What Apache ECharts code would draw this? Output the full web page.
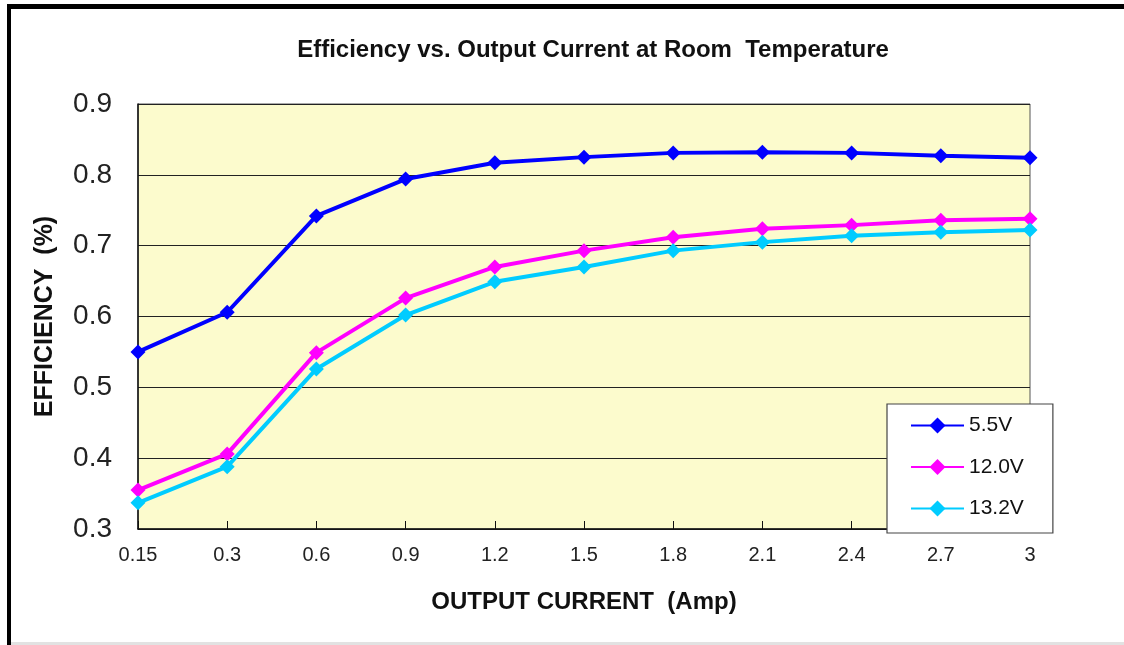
<!DOCTYPE html>
<html><head><meta charset="utf-8">
<script src="https://cdn.jsdelivr.net/npm/echarts@6/dist/echarts.min.js"></script>
<style>html,body{margin:0;padding:0;background:#fff;}#c{width:1124px;height:645px;}</style>
</head><body><div id="c"></div>
<script>
const categories = ['0.15','0.3','0.6','0.9','1.2','1.5','1.8','2.1','2.4','2.7','3'];
const v55 = [0.550,0.606,0.742,0.794,0.817,0.825,0.831,0.832,0.831,0.827,0.824];
const v120 = [0.355,0.406,0.549,0.626,0.670,0.693,0.712,0.724,0.729,0.736,0.738];
const v132 = [0.337,0.388,0.526,0.602,0.649,0.670,0.693,0.705,0.714,0.719,0.722];
const seriesNames = ['5.5V','12.0V','13.2V'];
const colors = ['#0000FF','#FF00FF','#00CCFF'];

const chart = echarts.init(document.getElementById('c'), null, {renderer:'canvas'});
function mk(name, data, color){
  return {name, type:'line', data, symbol:'diamond', symbolSize:15,
    lineStyle:{width:4,color}, itemStyle:{color}, color, z:3};
}
chart.setOption({
  animation:false,
  textStyle:{fontFamily:'Liberation Sans, Arial, sans-serif'},
  title:{text:'Efficiency vs. Output Current at Room  Temperature', left:588, top:33, textAlign:'center',
    textStyle:{fontSize:24,fontWeight:'bold',color:'#111'}},
  graphic:[
    {type:'rect', shape:{x:7,y:4,width:1117,height:5}, style:{fill:'#000'}},
    {type:'rect', shape:{x:7,y:4,width:4,height:641}, style:{fill:'#000'}},
    {type:'rect', shape:{x:11,y:642,width:1113,height:3}, style:{fill:'#e2e2e2'}}
  ],
  grid:{left:138,right:94,top:104,bottom:116,show:true,backgroundColor:'#FCFBCD',borderColor:'#555',borderWidth:1},
  legend:{orient:'vertical', left:887, top:404, data:seriesNames,
    backgroundColor:'#fff', borderColor:'#444', borderWidth:1.2, padding:[11,29,14,23],
    itemWidth:53, itemHeight:20, itemGap:20.5,
    textStyle:{fontSize:21,color:'#111',fontFamily:'Liberation Sans, Arial, sans-serif'}},
  xAxis:{type:'category', data:categories, boundaryGap:false,
    name:'OUTPUT CURRENT  (Amp)', nameLocation:'middle', nameGap:61,
    nameTextStyle:{fontSize:24,fontWeight:'bold',color:'#111'},
    axisLine:{lineStyle:{color:'#111',width:1.5}},
    axisTick:{inside:true,length:8,alignWithLabel:true,lineStyle:{color:'#111'}},
    axisLabel:{fontSize:20,color:'#222',margin:16},
    splitLine:{show:false}},
  yAxis:{type:'value', min:0.3, max:0.9, interval:0.1,
    name:'EFFICIENCY  (%)', nameLocation:'middle', nameGap:80, nameRotate:90,
    nameTextStyle:{fontSize:25,fontWeight:'bold',color:'#111'},
    axisLine:{show:true,lineStyle:{color:'#111',width:1.5}},
    axisTick:{show:false},
    axisLabel:{fontSize:28,color:'#222',margin:26,formatter:v=>v.toFixed(1)},
    splitLine:{lineStyle:{color:'#222',width:1}}},
  series:[mk(seriesNames[0],v55,colors[0]), mk(seriesNames[1],v120,colors[1]), mk(seriesNames[2],v132,colors[2])]
});
</script></body></html>
